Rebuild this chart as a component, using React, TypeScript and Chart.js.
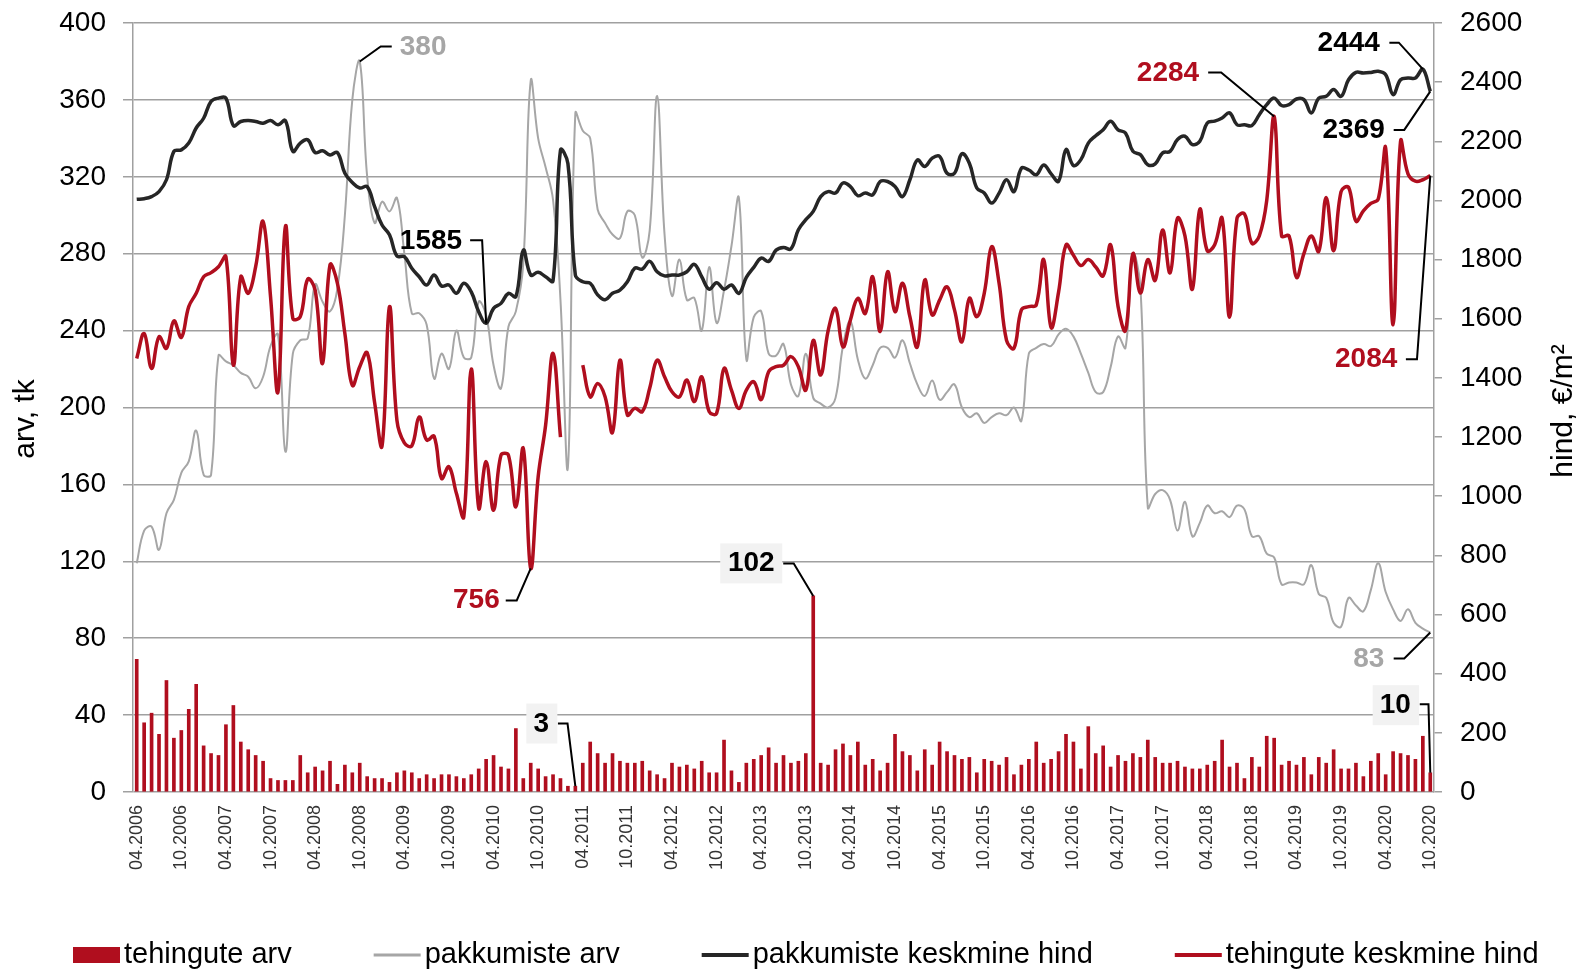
import React, { useEffect, useRef } from 'react';
import { Chart, registerables } from 'chart.js';

Chart.register(...registerables);

// ---------- DATA ----------
const categories = [
  '04.2006','05.2006','06.2006','07.2006','08.2006','09.2006','10.2006','11.2006','12.2006',
  '01.2007','02.2007','03.2007','04.2007','05.2007','06.2007','07.2007','08.2007','09.2007','10.2007','11.2007','12.2007',
  '01.2008','02.2008','03.2008','04.2008','05.2008','06.2008','07.2008','08.2008','09.2008','10.2008','11.2008','12.2008',
  '01.2009','02.2009','03.2009','04.2009','05.2009','06.2009','07.2009','08.2009','09.2009','10.2009','11.2009','12.2009',
  '01.2010','02.2010','03.2010','04.2010','05.2010','06.2010','07.2010','08.2010','09.2010','10.2010','11.2010','12.2010',
  '01.2011','02.2011','03.2011','04.2011','05.2011','06.2011','07.2011','08.2011','09.2011','10.2011','11.2011','12.2011',
  '01.2012','02.2012','03.2012','04.2012','05.2012','06.2012','07.2012','08.2012','09.2012','10.2012','11.2012','12.2012',
  '01.2013','02.2013','03.2013','04.2013','05.2013','06.2013','07.2013','08.2013','09.2013','10.2013','11.2013','12.2013',
  '01.2014','02.2014','03.2014','04.2014','05.2014','06.2014','07.2014','08.2014','09.2014','10.2014','11.2014','12.2014',
  '01.2015','02.2015','03.2015','04.2015','05.2015','06.2015','07.2015','08.2015','09.2015','10.2015','11.2015','12.2015',
  '01.2016','02.2016','03.2016','04.2016','05.2016','06.2016','07.2016','08.2016','09.2016','10.2016','11.2016','12.2016',
  '01.2017','02.2017','03.2017','04.2017','05.2017','06.2017','07.2017','08.2017','09.2017','10.2017','11.2017','12.2017',
  '01.2018','02.2018','03.2018','04.2018','05.2018','06.2018','07.2018','08.2018','09.2018','10.2018','11.2018','12.2018',
  '01.2019','02.2019','03.2019','04.2019','05.2019','06.2019','07.2019','08.2019','09.2019','10.2019','11.2019','12.2019',
  '01.2020','02.2020','03.2020','04.2020','05.2020','06.2020','07.2020','08.2020','09.2020','10.2020',
];

const xTickLabels = [
  '04.2006','10.2006','04.2007','10.2007','04.2008','10.2008','04.2009','10.2009','04.2010','10.2010',
  '04.2011','10.2011','04.2012','10.2012','04.2013','10.2013','04.2014','10.2014','04.2015','10.2015',
  '04.2016','10.2016','04.2017','10.2017','04.2018','10.2018','04.2019','10.2019','04.2020','10.2020',
];

// tehingute arv (left axis, bars)
const tehinguteArv = [
  69, 36, 41, 30, 58, 28, 32, 43, 56,
  24, 20, 19, 35, 45, 26, 22, 19, 16, 7, 6, 6,
  6, 19, 10, 13, 11, 16, 4, 14, 10, 15, 8, 7,
  7, 5, 10, 11, 10, 7, 9, 7, 9, 9, 8, 7,
  9, 12, 17, 19, 13, 12, 33, 7, 15, 12, 8, 9,
  7, 3, 3, 15, 26, 20, 15, 20, 16, 15, 15, 16,
  11, 9, 7, 15, 13, 14, 12, 16, 10, 10, 27, 11,
  5, 15, 17, 19, 23, 15, 19, 15, 16, 20, 102, 15,
  14, 22, 25, 19, 26, 14, 17, 11, 15, 30, 21, 19,
  11, 22, 14, 26, 21, 19, 17, 18, 10, 17, 16, 14,
  18, 9, 14, 17, 26, 15, 17, 21, 30, 26, 12, 34,
  20, 24, 13, 19, 16, 20, 18, 27, 18, 15, 15, 16,
  13, 12, 12, 14, 16, 27, 13, 15, 7, 18, 13, 29,
  28, 14, 16, 14, 18, 9, 18, 15, 22, 12, 12, 15,
  8, 16, 20, 9, 21, 20, 19, 17, 29, 10,
];

// pakkumiste arv (left axis, grey line)
const pakkumisteArv = [
  119, 136, 138, 126, 145, 152, 166, 172, 188,
  165, 165, 227, 224, 222, 218, 216, 210, 216, 232, 238, 177,
  228, 235, 236, 264, 255, 250, 262, 300, 360, 380, 320, 296,
  307, 302, 309, 280, 249, 249, 243, 215, 228, 220, 240, 226,
  226, 255, 248, 222, 210, 242, 250, 275, 370, 340, 325, 308,
  256, 169, 353, 344, 340, 303, 296, 290, 288, 302, 300, 278,
  292, 362, 290, 258, 277, 256, 257, 240, 273, 244, 261, 284,
  309, 225, 247, 250, 228, 227, 233, 212, 206, 228, 205, 202,
  200, 205, 232, 245, 225, 215, 222, 231, 231, 226, 235, 223,
  212, 206, 214, 204, 208, 212, 200, 195, 197, 192, 195, 197,
  196, 200, 193, 228, 231, 233, 232, 238, 241, 237, 228, 218,
  208, 208, 221, 237, 231, 280, 263, 148, 155, 157, 152, 136,
  151, 133, 140, 149, 145, 146, 143, 149, 147, 133, 133, 124,
  122, 108, 109, 109, 108, 118, 103, 101, 88, 86, 101, 97,
  94, 105, 119, 104, 95, 89, 95, 88, 85, 83,
];

// pakkumiste keskmine hind (right axis, black line)
const pakkumisteHind = [
  2004, 2006, 2013, 2030, 2070, 2166, 2171, 2194, 2245,
  2278, 2335, 2346, 2346, 2253, 2267, 2270, 2267, 2261, 2270, 2256, 2270,
  2166, 2194, 2205, 2162, 2168, 2154, 2162, 2092, 2061, 2042, 2047, 1979,
  1917, 1884, 1812, 1810, 1771, 1742, 1714, 1748, 1711, 1714, 1686, 1720,
  1691, 1624, 1585, 1635, 1652, 1686, 1675, 1832, 1748, 1757, 1742, 1728,
  2170, 2125, 1748, 1725, 1720, 1681, 1664, 1686, 1697, 1725, 1771, 1768,
  1794, 1759, 1745, 1748, 1748, 1759, 1784, 1742, 1700, 1722, 1700, 1714,
  1686, 1740, 1774, 1805, 1794, 1832, 1841, 1836, 1901, 1935, 1963, 2013,
  2030, 2025, 2059, 2047, 2016, 2025, 2019, 2064, 2064, 2047, 2013, 2070,
  2137, 2115, 2143, 2149, 2092, 2092, 2158, 2126, 2042, 2025, 1991, 2025,
  2070, 2030, 2109, 2103, 2087, 2120, 2090, 2065, 2172, 2118, 2138, 2194,
  2219, 2239, 2268, 2239, 2228, 2166, 2155, 2121, 2124, 2161, 2166, 2206,
  2217, 2189, 2200, 2262, 2268, 2279, 2296, 2256, 2256, 2253, 2290, 2324,
  2346, 2321, 2324, 2343, 2341, 2296, 2346, 2352, 2375, 2352, 2408, 2433,
  2431, 2433, 2437, 2425, 2358, 2408, 2414, 2414, 2444, 2369,
];

// tehingute keskmine hind (right axis, red line)
const tehinguteHind = [
  1466, 1550, 1432, 1539, 1500, 1593, 1537, 1641, 1686,
  1742, 1756, 1776, 1810, 1443, 1742, 1686, 1776, 1929, 1675, 1353, 1912,
  1601, 1607, 1734, 1697, 1449, 1782, 1720, 1550, 1375, 1438, 1485, 1317,
  1170, 1641, 1257, 1180, 1170, 1268, 1190, 1203, 1060, 1100, 1010, 931,
  1430, 960, 1117, 953, 1139, 1139, 964, 1162, 756, 1066, 1240, 1483,
  1200, null, null, 1443, 1336, 1381, 1336, 1216, 1460, 1275, 1297, 1286,
  1365, 1460, 1404, 1353, 1336, 1393, 1320, 1404, 1286, 1280, 1432, 1359,
  1297, 1359, 1387, 1327, 1421, 1438, 1443, 1472, 1438, 1359, 1527, 1410,
  1559, 1635, 1505, 1596, 1669, 1618, 1742, 1557, 1759, 1624, 1720, 1607,
  1505, 1731, 1613, 1663, 1708, 1630, 1522, 1669, 1607, 1686, 1844, 1720,
  1527, 1500, 1630, 1641, 1647, 1800, 1570, 1690, 1850, 1815, 1780, 1800,
  1775, 1745, 1850, 1642, 1560, 1820, 1687, 1800, 1730, 1900, 1755, 1940,
  1880, 1700, 1970, 1830, 1850, 1940, 1605, 1940, 1955, 1855, 1880, 2000,
  2284, 1880, 1880, 1740, 1820, 1880, 1828, 2010, 1830, 2030, 2045, 1930,
  1965, 1990, 2005, 2177, 1580, 2200, 2090, 2065, 2070, 2084,
];

const seriesNames = ['tehingute arv', 'pakkumiste arv', 'pakkumiste keskmine hind', 'tehingute keskmine hind'];
const leftTitle = 'arv, tk';
const rightTitle = 'hind, €/m²';

// ---------- STYLE ----------
const FONT = '"Liberation Sans", Arial, Helvetica, sans-serif';
const RED = '#B00E1E';
const GREY = '#A6A6A6';
const BLACK = '#262626';
const GRID = '#A0A0A0';

// annotation callouts: dataset index, point index, style / offsets relative to the point
const callouts = [
  { ds: 1, idx: 30, color: GREY, align: 'left', tx: 40, ty: -14, path: [[0, 0], [21, -15], [32, -15]] },
  { ds: 2, idx: 47, color: '#000', align: 'right', tx: -24, ty: -82, path: [[0, 0], [-4, -83], [-16, -83]] },
  { ds: 3, idx: 53, color: RED, align: 'right', tx: -31, ty: 32, path: [[0, 0], [-14, 32], [-25, 32]] },
  { ds: 0, idx: 91, color: '#000', align: 'center', tx: -62, ty: -32.5, box: [-93, -52.5, -31, -12.5], path: [[0, 0], [-19.5, -32.5], [-30, -32.5]] },
  { ds: 0, idx: 59, color: '#000', align: 'center', tx: -34, ty: -62, box: [-49, -82.7, -18, -42.7], path: [[0, 0], [-7.8, -62.7], [-17.4, -62.7]] },
  { ds: 3, idx: 153, color: RED, align: 'right', tx: -75, ty: -43.5, path: [[0, 0], [-53, -44], [-66, -44]] },
  { ds: 2, idx: 173, color: '#000', align: 'right', tx: -43, ty: -26, path: [[0, 0], [-24, -26.5], [-33.5, -26.5]] },
  { ds: 2, idx: 174, color: '#000', align: 'right', tx: -45.5, ty: 38.6, path: [[0, 0], [-26, 38.6], [-36.6, 38.6]] },
  { ds: 3, idx: 174, color: RED, align: 'right', tx: -33, ty: 183.6, path: [[0, 0], [-13.3, 183.6], [-24.4, 183.6]] },
  { ds: 1, idx: 174, color: GREY, align: 'right', tx: -46, ty: 27, path: [[0, 0], [-26, 26], [-36.6, 26]] },
  { ds: 0, idx: 174, color: '#000', align: 'center', tx: -35, ty: -67.6, box: [-57.6, -87.6, -11.2, -47.6], path: [[0, 0], [-1.8, -68.6], [-10.5, -68.6]] },
];

const legendSymbols = [
  { kind: 'box', color: RED },
  { kind: 'line', color: GREY, width: 3 },
  { kind: 'line', color: BLACK, width: 4 },
  { kind: 'line', color: RED, width: 4 },
];

const extrasPlugin = {
  id: 'extras',
  afterDraw(chart: any) {
    const ctx = chart.ctx as CanvasRenderingContext2D;
    const xs = chart.scales.x;

    // axis titles
    ctx.save();
    ctx.fillStyle = '#000';
    ctx.font = `30px ${FONT}`;
    ctx.textAlign = 'center';
    ctx.textBaseline = 'middle';
    ctx.save();
    ctx.translate(26, 419);
    ctx.rotate(-Math.PI / 2);
    ctx.fillText(leftTitle, 0, 0);
    ctx.restore();
    ctx.save();
    ctx.translate(1564, 411);
    ctx.rotate(-Math.PI / 2);
    ctx.fillText(rightTitle, 0, 0);
    ctx.restore();
    ctx.restore();

    // legend
    ctx.save();
    ctx.font = `29px ${FONT}`;
    ctx.textBaseline = 'middle';
    ctx.textAlign = 'left';
    let lx = 73;
    const ly = 955;
    chart.data.datasets.forEach((d: any, i: number) => {
      const s = legendSymbols[i];
      if (s.kind === 'box') {
        ctx.fillStyle = s.color;
        ctx.fillRect(lx, ly - 8, 47, 16);
      } else {
        ctx.strokeStyle = s.color;
        ctx.lineWidth = s.width as number;
        ctx.beginPath();
        ctx.moveTo(lx, ly);
        ctx.lineTo(lx + 47, ly);
        ctx.stroke();
      }
      ctx.fillStyle = '#000';
      const tx = lx + 51;
      ctx.fillText(d.label, tx, ly);
      lx = tx + ctx.measureText(d.label).width + 82;
    });
    ctx.restore();

    // callouts
    ctx.save();
    callouts.forEach((c) => {
      const ds = chart.data.datasets[c.ds];
      const meta = chart.getDatasetMeta(c.ds);
      const value = ds.data[c.idx];
      const ys = chart.scales[meta.yAxisID];
      const px = xs.getPixelForValue(c.idx);
      const py = ys.getPixelForValue(value);
      if (c.box) {
        ctx.fillStyle = '#F2F2F2';
        ctx.fillRect(px + c.box[0], py + c.box[1], c.box[2] - c.box[0], c.box[3] - c.box[1]);
      }
      ctx.strokeStyle = '#000';
      ctx.lineWidth = 2;
      ctx.lineJoin = 'miter';
      ctx.beginPath();
      c.path.forEach((p, k) => {
        if (k === 0) ctx.moveTo(px + p[0], py + p[1]);
        else ctx.lineTo(px + p[0], py + p[1]);
      });
      ctx.stroke();
      ctx.font = `bold 28px ${FONT}`;
      ctx.fillStyle = c.color;
      ctx.textAlign = c.align as CanvasTextAlign;
      ctx.textBaseline = 'middle';
      ctx.fillText(String(value), px + c.tx, py + c.ty);
    });
    ctx.restore();
  },
};

export default function App() {
  const ref = useRef<HTMLCanvasElement>(null);

  useEffect(() => {
    const canvas = ref.current;
    if (!canvas) return;
    Chart.defaults.font.family = FONT;
    const chart = new Chart(canvas, {
      type: 'bar',
      data: {
        labels: categories,
        datasets: [
          {
            type: 'bar',
            label: seriesNames[0],
            data: tehinguteArv,
            backgroundColor: RED,
            barThickness: 3,
            yAxisID: 'y',
            order: 4,
          },
          {
            type: 'line',
            label: seriesNames[1],
            data: pakkumisteArv,
            borderColor: GREY,
            backgroundColor: GREY,
            borderWidth: 2,
            pointRadius: 0,
            tension: 0.4,
            yAxisID: 'y',
            order: 3,
          },
          {
            type: 'line',
            label: seriesNames[2],
            data: pakkumisteHind,
            borderColor: BLACK,
            backgroundColor: BLACK,
            borderWidth: 3.5,
            pointRadius: 0,
            tension: 0.4,
            yAxisID: 'y1',
            order: 2,
          },
          {
            type: 'line',
            label: seriesNames[3],
            data: tehinguteHind,
            borderColor: RED,
            backgroundColor: RED,
            borderWidth: 3.5,
            pointRadius: 0,
            tension: 0.4,
            spanGaps: false,
            yAxisID: 'y1',
            order: 1,
          },
        ],
      } as any,
      options: {
        responsive: false,
        animation: false,
        devicePixelRatio: 1,
        events: [],
        layout: { padding: { top: 23, bottom: 0, left: 0, right: 0 } },
        plugins: {
          legend: { display: false },
          tooltip: { enabled: false },
          title: { display: false },
        },
        scales: {
          x: {
            type: 'category',
            offset: true,
            grid: { display: false, drawTicks: false },
            border: { display: false },
            ticks: {
              autoSkip: false,
              minRotation: 90,
              maxRotation: 90,
              padding: 13,
              color: '#333',
              font: { size: 18, family: FONT },
              callback: (_v: any, i: number) => (xTickLabels.includes(categories[i]) ? categories[i] : ''),
            },
            afterFit: (s: any) => {
              s.height = 177;
              s.paddingLeft = 0;
              s.paddingRight = 0;
            },
          },
          y: {
            position: 'left',
            min: 0,
            max: 400,
            ticks: {
              stepSize: 40,
              padding: 17,
              color: '#000',
              font: { size: 28, family: FONT },
              callback: (v: any) => String(v),
            },
            grid: { color: GRID, lineWidth: 1.5, tickLength: 10, drawTicks: true },
            border: { display: true, color: GRID, width: 1.5 },
            afterFit: (s: any) => {
              s.width = 133;
              s.paddingTop = 0;
              s.paddingBottom = 0;
            },
          },
          y1: {
            position: 'right',
            min: 0,
            max: 2600,
            ticks: {
              stepSize: 200,
              padding: 18,
              color: '#000',
              font: { size: 28, family: FONT },
              callback: (v: any) => String(v),
            },
            grid: { drawOnChartArea: false, color: GRID, lineWidth: 1.5, tickLength: 8, drawTicks: true },
            border: { display: true, color: GRID, width: 1.5 },
            afterFit: (s: any) => {
              s.width = 153;
              s.paddingTop = 0;
              s.paddingBottom = 0;
            },
          },
        },
      } as any,
      plugins: [extrasPlugin],
    });
    return () => chart.destroy();
  }, []);

  return (
    <div style={{ position: 'fixed', left: 0, top: 0, width: 1587, height: 969, background: '#fff' }}>
      <canvas ref={ref} width={1587} height={969} style={{ display: 'block', width: 1587, height: 969 }} />
    </div>
  );
}
